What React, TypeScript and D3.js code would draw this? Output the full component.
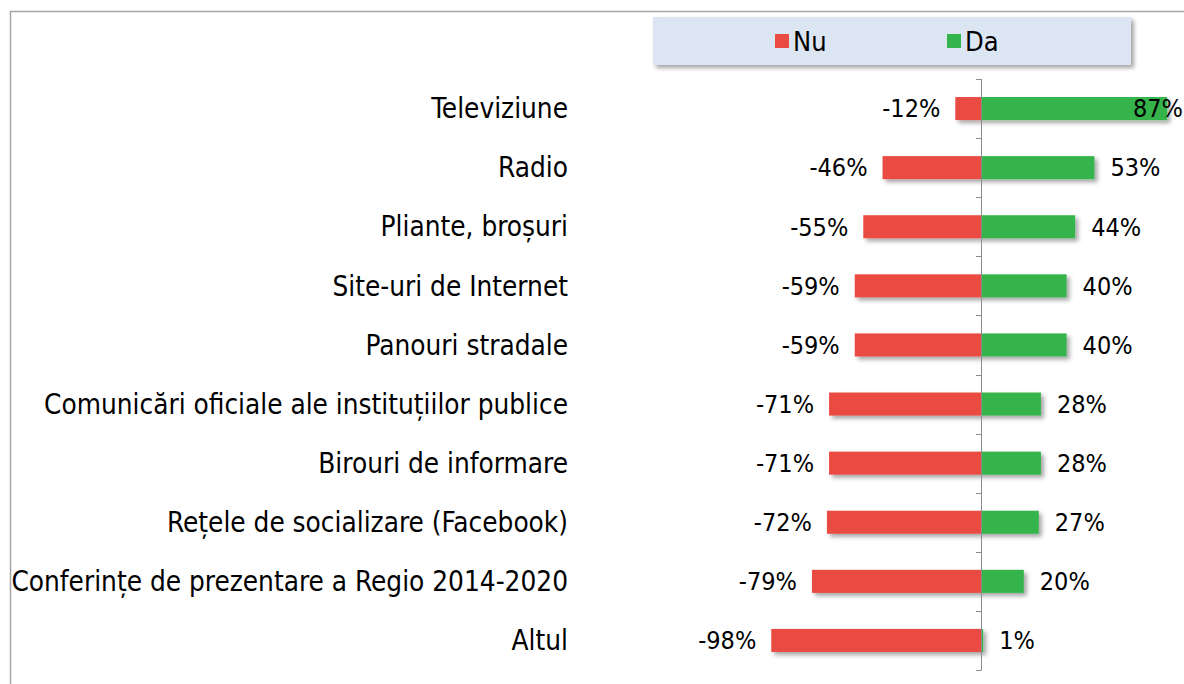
import React, { useRef, useEffect } from "react";
import * as d3 from "d3";

const categories = [
	"Televiziune",
	"Radio",
	"Pliante, broșuri",
	"Site-uri de Internet",
	"Panouri stradale",
	"Comunicări oficiale ale instituțiilor publice",
	"Birouri de informare",
	"Rețele de socializare (Facebook)",
	"Conferințe de prezentare a Regio 2014-2020",
	"Altul",
];
const nuValues = [-12, -46, -55, -59, -59, -71, -71, -72, -79, -98];
const daValues = [87, 53, 44, 40, 40, 28, 28, 27, 20, 1];
const seriesNames = ["Nu", "Da"];

const RED = "#e94b43";
const GREEN = "#34b44c";
const FONT = "'DejaVu Sans Condensed', 'DejaVu Sans', sans-serif";

export default function App() {
	const svgRef = useRef<SVGSVGElement | null>(null);

	useEffect(() => {
		const width = 1184;
		const height = 684;
		const svg = d3.select(svgRef.current);
		svg.selectAll("*").remove();
		svg.attr("width", width).attr("height", height);

		const defs = svg.append("defs");
		const f = defs
			.append("filter")
			.attr("id", "shadow")
			.attr("x", "-10%")
			.attr("y", "-30%")
			.attr("width", "130%")
			.attr("height", "180%");
		f.append("feDropShadow")
			.attr("dx", 3)
			.attr("dy", 3)
			.attr("stdDeviation", 2)
			.attr("flood-color", "#000")
			.attr("flood-opacity", 0.35);

		// outer frame
		svg.append("path")
			.attr("d", `M10.5,${height} V11.5 H${width}`)
			.attr("fill", "none")
			.attr("stroke", "#a6a6a6")
			.attr("stroke-width", 1.5);

		const x = d3.scaleLinear().domain([-100, 100]).range([767, 1195]);
		const y = d3.scaleBand<string>().domain(categories).range([79, 670]);
		const bh = y.bandwidth() * 0.39;
		const x0 = x(0);

		// legend
		const legend = svg.append("g");
		legend
			.append("rect")
			.attr("x", 653)
			.attr("y", 17)
			.attr("width", 478)
			.attr("height", 48)
			.attr("fill", "#dce6f2")
			.attr("filter", "url(#shadow)");
		const legendX = [775, 947];
		seriesNames.forEach((name, i) => {
			legend
				.append("rect")
				.attr("x", legendX[i])
				.attr("y", 34)
				.attr("width", 14)
				.attr("height", 14)
				.attr("fill", i === 0 ? RED : GREEN);
			legend
				.append("text")
				.attr("x", legendX[i] + 18)
				.attr("y", 42)
				.attr("dy", "0.35em")
				.attr("font-family", FONT)
				.attr("font-size", 27)
				.attr("fill", "#000")
				.text(name);
		});

		// category labels
		svg.append("g")
			.selectAll("text")
			.data(categories)
			.join("text")
			.attr("x", 568)
			.attr("y", (d) => (y(d) as number) + y.bandwidth() / 2)
			.attr("dy", "0.35em")
			.attr("text-anchor", "end")
			.attr("font-family", FONT)
			.attr("font-size", 27.7)
			.attr("fill", "#000")
			.text((d) => d);

		const bars = svg.append("g").attr("filter", "url(#shadow)");
		bars.selectAll("rect.nu")
			.data(nuValues)
			.join("rect")
			.attr("class", "nu")
			.attr("x", (d) => x(d))
			.attr("y", (_, i) => (y(categories[i]) as number) + (y.bandwidth() - bh) / 2)
			.attr("width", (d) => x0 - x(d))
			.attr("height", bh)
			.attr("fill", RED);
		bars.selectAll("rect.da")
			.data(daValues)
			.join("rect")
			.attr("class", "da")
			.attr("x", x0)
			.attr("y", (_, i) => (y(categories[i]) as number) + (y.bandwidth() - bh) / 2)
			.attr("width", (d) => x(d) - x0)
			.attr("height", bh)
			.attr("fill", GREEN);

		// axis
		const axis = svg.append("g").attr("stroke", "#8c8c8c").attr("stroke-width", 1);
		axis.append("line")
			.attr("x1", x0 + 0.5)
			.attr("x2", x0 + 0.5)
			.attr("y1", 79)
			.attr("y2", 670);
		const tickYs = categories.map((c) => y(c) as number).concat([670]);
		axis.selectAll("line.tick")
			.data(tickYs)
			.join("line")
			.attr("class", "tick")
			.attr("x1", x0 - 5)
			.attr("x2", x0 + 0.5)
			.attr("y1", (d) => Math.round(d) + 0.5)
			.attr("y2", (d) => Math.round(d) + 0.5);

		// value labels
		const labels = svg.append("g")
			.attr("font-family", FONT)
			.attr("font-size", 25)
			.attr("fill", "#000");
		labels.selectAll("text.nu")
			.data(nuValues)
			.join("text")
			.attr("class", "nu")
			.attr("x", (d) => x(d) - 15)
			.attr("y", (_, i) => (y(categories[i]) as number) + y.bandwidth() / 2)
			.attr("dy", "0.35em")
			.attr("text-anchor", "end")
			.text((d) => `${d}%`);
		labels.selectAll("text.da")
			.data(daValues)
			.join("text")
			.attr("class", "da")
			.attr("x", (d) => (x(d) + 60 > width ? width - 1 : x(d) + 16))
			.attr("text-anchor", (d) => (x(d) + 60 > width ? "end" : "start"))
			.attr("y", (_, i) => (y(categories[i]) as number) + y.bandwidth() / 2)
			.attr("dy", "0.35em")
			.text((d) => `${d}%`);
	}, []);

	return (
		<svg
			ref={svgRef}
			style={{ position: "absolute", left: 0, top: 0, background: "#fff" }}
		></svg>
	);
}
